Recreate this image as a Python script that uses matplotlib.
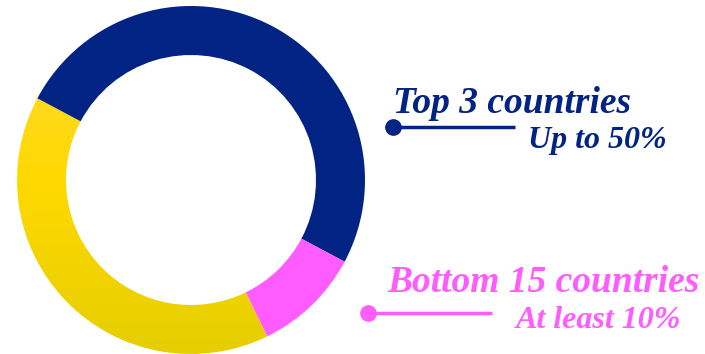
import numpy as np
import matplotlib.pyplot as plt
from matplotlib.colors import LinearSegmentedColormap

# Data
groups = ['Top 3 countries', 'Bottom 15 countries', 'Others']
shares = [50, 10, 40]
colors = ['#012383', '#FF5CFF', '#FFD900']

labels = ['Top 3 countries', 'Bottom 15 countries']
sublabels = ['Up to 50%', 'At least 10%']
label_colors = ['#012383', '#FF5CFF']

# canvas in pixel units, y pointing up
W, H = 705, 354
fig = plt.figure(figsize=(W / 100, H / 100), dpi=100)
ax = fig.add_axes([0, 0, 1, 1])

cx, cy = 191, H - 180
R = 174
wedges, _ = ax.pie(shares, colors=colors, startangle=152, counterclock=False,
                   center=(cx, cy), radius=R,
                   wedgeprops=dict(width=49, linewidth=0))

# vertical gradient on the yellow part
yellow = wedges[2]
yellow.set_facecolor('none')
cmap = LinearSegmentedColormap.from_list('yel', ['#E6CE00', '#FFD900', '#FFD840'])
grad = np.linspace(0, 1, 256).reshape(-1, 1)
im = ax.imshow(grad, cmap=cmap, origin='lower', aspect='auto',
               extent=(cx - R, cx + R, cy - R, cy + R), zorder=0.5)
im.set_clip_path(yellow)

ax.set_xlim(0, W)
ax.set_ylim(0, H)
ax.set_aspect('equal')
ax.axis('off')

font = dict(family='Liberation Serif', weight='bold', style='italic')

# Top 3 label
ax.plot([393, 515], [H - 127, H - 127], color=label_colors[0], lw=2.5, solid_capstyle='butt')
ax.plot(393, H - 127, 'o', color=label_colors[0], ms=11)
ax.text(393, H - 113, labels[0], color=label_colors[0], fontsize=27, ha='left', va='baseline', **font)
ax.text(667, H - 148, sublabels[0], color=label_colors[0], fontsize=23, ha='right', va='baseline', **font)

# Bottom 15 label
ax.plot([368, 492], [H - 313, H - 313], color=label_colors[1], lw=2.5, solid_capstyle='butt')
ax.plot(368, H - 313, 'o', color=label_colors[1], ms=11)
ax.text(387, H - 292, labels[1], color=label_colors[1], fontsize=27, ha='left', va='baseline', **font)
ax.text(681, H - 328, sublabels[1], color=label_colors[1], fontsize=23, ha='right', va='baseline', **font)

fig.savefig('out.png', dpi=100)
